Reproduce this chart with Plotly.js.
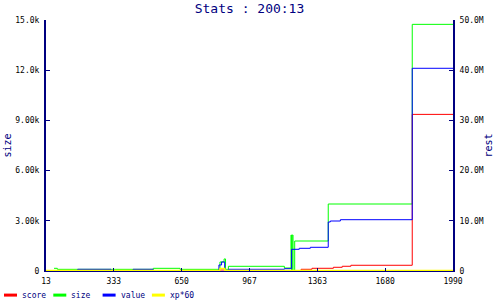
<!DOCTYPE html>
<html>
<head>
<meta charset="utf-8">
<script src="https://cdn.plot.ly/plotly-3.0.1.min.js"></script>
<style>html,body{margin:0;padding:0;background:#fff}#chart{width:500px;height:300px}</style>
</head>
<body>
<div id="chart"></div>
<script>
// ---- data ----
const xTickLabels = ['13', '333', '650', '967', '1363', '1680', '1990'];
const leftTickLabels = ['0', '3.00k', '6.00k', '9.00k', '12.0k', '15.0k'];
const rightTickLabels = ['0', '10.0M', '20.0M', '30.0M', '40.0M', '50.0M'];

const seriesNames = ['score', 'size', 'value', 'xp*60'];

const scoreX = [13, 858, 881, 1252, 1305, 1409, 1452, 1494, 1792, 1990];
const scoreY = [0, 200000, 0, 340000, 540000, 740000, 940000, 1140000, 31200000, 31200000];

const sizeX = [52, 68, 534, 664, 858, 878, 885, 899, 1171, 1203, 1206, 1209, 1213, 1221, 1384, 1792, 1990];
const sizeY = [160, 100, 160, 100, 540, 720, 100, 281, 179, 2150, 0, 2150, 0, 1793, 4004, 14740, 14740];

const valueX = [13, 167, 329, 436, 534, 853, 866, 881, 899, 1171, 1206, 1243, 1297, 1384, 1394, 1443, 1792, 1990];
const valueY = [100000, 340000, 100000, 340000, 100000, 1200000, 1800000, 100000, 340000, 460000, 4320000, 4520000, 4720000, 9760000, 9960000, 10220000, 40380000, 40380000];

const xpX = [13, 858, 881, 1990];
const xpY = [120000, 500000, 120000, 120000];

// ---- styling ----
const NAVY = '#000080';
const MONO = 'DejaVu Sans Mono, monospace';
const colors = ['#ff0000', '#00ff00', '#0000ff', '#ffff00'];
const xMin = 13, xMax = 1990;

function stepTrace(x, y, i, axis, w) {
  return {
    x: x, y: y, name: seriesNames[i], type: 'scatter', mode: 'lines',
    line: {color: colors[i], width: w || 1, shape: 'hv'},
    yaxis: axis, showlegend: false, hoverinfo: 'skip'
  };
}

const traces = [
  stepTrace(scoreX, scoreY, 0, 'y2'),
  stepTrace(sizeX, sizeY, 1, 'y'),
  stepTrace(valueX, valueY, 2, 'y2'),
  stepTrace(xpX, xpY, 3, 'y2', 1.5)
];

const xTickVals = xTickLabels.map((_, k) => xMin + k * (xMax - xMin) / (xTickLabels.length - 1));
const leftTickVals = leftTickLabels.map((_, k) => k * 3000);
const rightTickVals = rightTickLabels.map((_, k) => k * 10000000);

// compact legend drawn like the original
const shapes = [];
const annotations = [];
const legStart = 4, legStep = 49.3, legY = -0.096;
seriesNames.forEach((n, i) => {
  const x0 = legStart + i * legStep;
  shapes.push({type: 'line', xref: 'paper', yref: 'paper',
    x0: (x0 - 46) / 407, x1: (x0 + 13 - 46) / 407, y0: legY, y1: legY,
    line: {color: colors[i], width: 3}});
  annotations.push({xref: 'paper', yref: 'paper', x: (x0 + 16 - 46) / 407, y: legY,
    xanchor: 'left', yanchor: 'middle', text: n, showarrow: false,
    font: {family: MONO, size: 8, color: NAVY}});
});

const axisCommon = {
  showgrid: false, zeroline: false, showline: true, linecolor: NAVY,
  ticks: 'inside', tickcolor: NAVY, tickfont: {family: MONO, size: 8, color: '#000'},
  fixedrange: true
};

const layout = {
  width: 500, height: 300,
  margin: {l: 46, r: 47, t: 20, b: 29, pad: 0},
  paper_bgcolor: '#fff', plot_bgcolor: '#fff',
  showlegend: false,
  title: {text: 'Stats : 200:13', font: {family: MONO, size: 13, color: NAVY},
    x: 0.5, xref: 'paper', xanchor: 'center', y: 0.972, yref: 'container', yanchor: 'middle'},
  xaxis: Object.assign({}, axisCommon, {
    range: [xMin, xMax], tickvals: xTickVals, ticktext: xTickLabels,
    ticklen: 3, linewidth: 1, automargin: false, ticklabelstandoff: 2
  }),
  yaxis: Object.assign({}, axisCommon, {
    range: [0, 15000], tickvals: leftTickVals, ticktext: leftTickLabels,
    ticklen: 4, linewidth: 2, automargin: false, ticklabelstandoff: 3,
    title: {text: 'size', font: {family: MONO, size: 10, color: NAVY}, standoff: 2}
  }),
  yaxis2: Object.assign({}, axisCommon, {
    range: [0, 50000000], tickvals: rightTickVals, ticktext: rightTickLabels,
    overlaying: 'y', side: 'right', anchor: 'x',
    ticklen: 4, linewidth: 2, automargin: false, ticklabelstandoff: 3,
    title: {text: 'rest', font: {family: MONO, size: 10, color: NAVY}, standoff: 2}
  }),
  shapes: shapes,
  annotations: annotations
};

Plotly.newPlot('chart', traces, layout, {staticPlot: true, displayModeBar: false});
</script>
</body>
</html>
